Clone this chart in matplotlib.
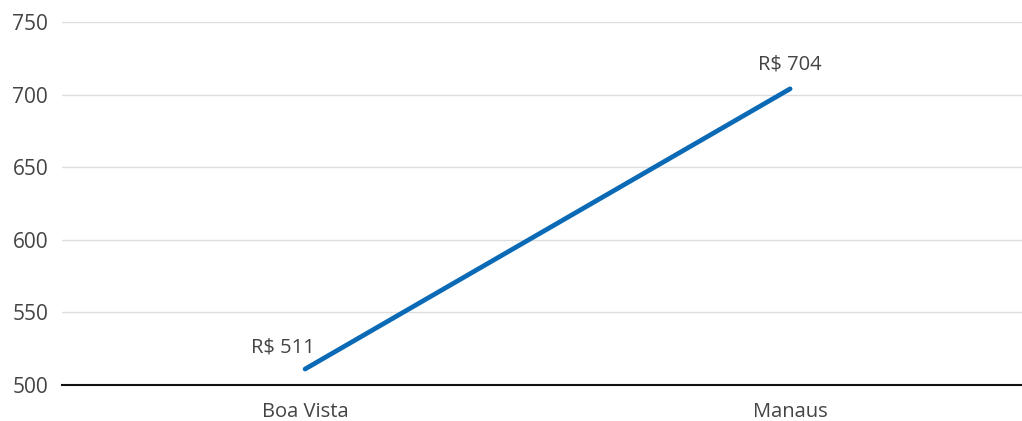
import matplotlib.pyplot as plt

cities = ["Boa Vista", "Manaus"]
values = [511, 704]
labels = ["R$ 511", "R$ 704"]
yticks = [500, 550, 600, 650, 700, 750]

plt.rcParams['font.family'] = ['Open Sans', 'DejaVu Sans']

fig = plt.figure(figsize=(10.22, 4.21), dpi=100)
ax = fig.add_axes([0.0607, 0.0855, 0.9393, 0.8622])

x = list(range(len(cities)))
ax.plot(x, values, color='#0a6ab6', linewidth=3.4, solid_capstyle='round')

# value labels above each point
offsets = [(-16, 8), (0, 10)]
for xi, v, lab, off in zip(x, values, labels, offsets):
    ax.annotate(lab, (xi, v), xytext=off, textcoords='offset points',
                ha='center', va='bottom', fontsize=14.5, color='#444444')

ax.set_xlim(-0.501, 1.478)
ax.set_ylim(500, 750)
ax.set_yticks(yticks)
ax.set_xticks(x)
ax.set_xticklabels(cities)
ax.grid(axis='y', color='#dddddd', linewidth=1)
ax.set_axisbelow(True)
for s in ['top', 'right', 'left']:
    ax.spines[s].set_visible(False)
ax.spines['bottom'].set_color('#111111')
ax.spines['bottom'].set_linewidth(1.5)
ax.tick_params(axis='both', length=0, labelsize=14.5, labelcolor='#444444')
ax.tick_params(axis='y', labelsize=15, pad=10)
ax.tick_params(axis='x', pad=12)

fig.savefig('out.png', dpi=100)
